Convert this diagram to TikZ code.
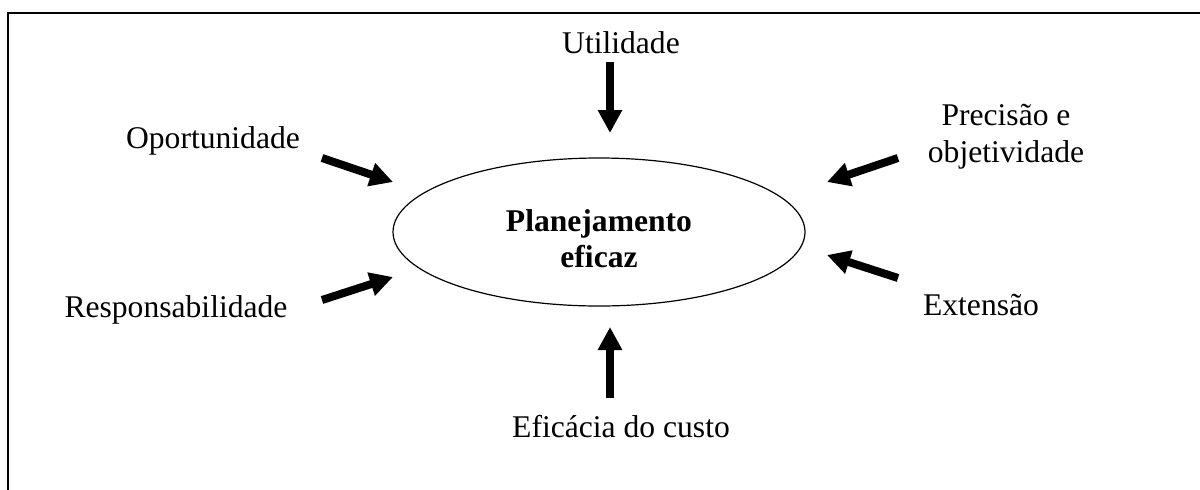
\documentclass[tikz,border=0pt]{standalone}
\usepackage{fontspec}
\setmainfont{Liberation Serif}
\usepackage{tikz}
\usetikzlibrary{arrows.meta,shapes.geometric}
\tikzset{
    every node/.style={inner sep=0mm, font=\fontsize{15.8}{18.5}\selectfont}
}
\tikzset{rotulo/.style={anchor=base, align=center}}
\tikzset{seta/.style={line width=4pt, -{Triangle[length=11.5pt, width=11.5pt]}}}

\begin{document}
\begin{tikzpicture}[x=0.5pt, y=-0.5pt]
    \useasboundingbox (0,0) rectangle (1200,489);
    \draw[line width=0.8pt] (8,495) -- (8,13) -- (1210,13);

    \node (plan) [ellipse, draw, line width=0.6pt, minimum width=206pt, minimum height=74pt,
        align=center, font=\fontsize{15.8}{18}\selectfont\bfseries] at (599,232)
        {\rule{0pt}{17.5pt}Planejamento\\eficaz};

    \node (util) [rotulo] at (621,53) {Utilidade};
    \node (efic) [rotulo] at (621,437) {Eficácia do custo};
    \node (oport) [rotulo] at (213,148) {Oportunidade};
    \node (resp) [rotulo] at (176,317) {Responsabilidade};
    \node (prec) [rotulo] at (1006,162) {Precisão e\\objetividade};
    \node (ext) [rotulo] at (981,315) {Extensão};

    \coordinate (u1) at (610,62);  \coordinate (u2) at (610,133);
    \coordinate (e1) at (610,398); \coordinate (e2) at (610,327);
    \coordinate (o1) at (322,158); \coordinate (o2) at (393,182);
    \coordinate (r1) at (322,300); \coordinate (r2) at (393,277);
    \coordinate (p1) at (898,158); \coordinate (p2) at (827,182);
    \coordinate (x1) at (898,278); \coordinate (x2) at (827,255);

    \draw[seta] (u1) -- (u2);
    \draw[seta] (e1) -- (e2);
    \draw[seta] (o1) -- (o2);
    \draw[seta] (r1) -- (r2);
    \draw[seta] (p1) -- (p2);
    \draw[seta] (x1) -- (x2);
\end{tikzpicture}
\end{document}
